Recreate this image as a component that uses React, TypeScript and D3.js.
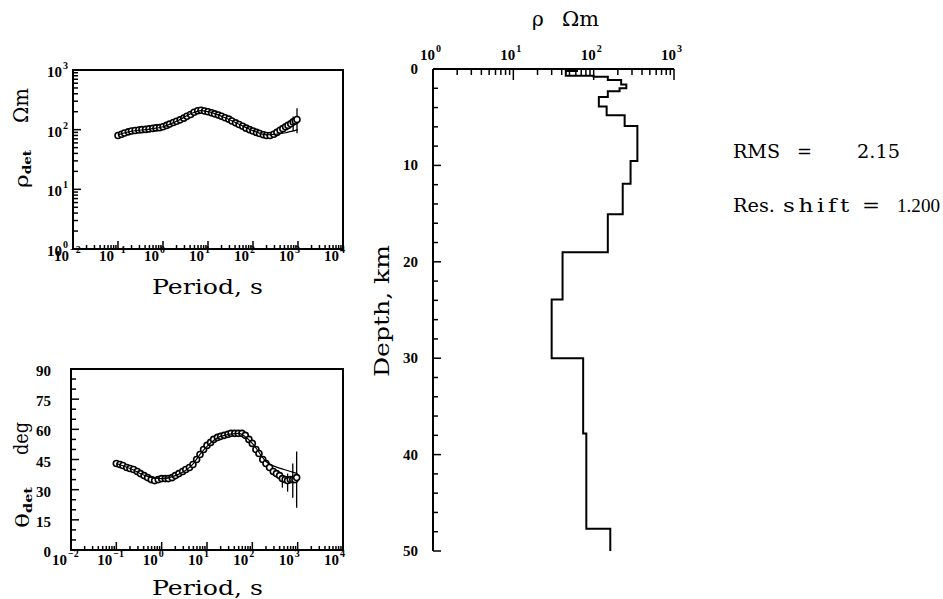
import React from 'react';
import * as d3 from 'd3';

// ---------- data ----------
const periods = [0.1, 0.12, 0.14, 0.17, 0.2, 0.24, 0.29, 0.34, 0.41, 0.49, 0.59, 0.7, 0.84, 1.0, 1.2, 1.4, 1.7, 2.0, 2.4, 2.9, 3.4, 4.1, 4.9, 5.9, 7.0, 8.4, 10, 12, 14, 17, 20, 24, 29, 34, 41, 49, 59, 70, 84, 100, 120, 140, 170, 200, 240, 290, 340, 400, 460, 530, 600, 690, 780, 870, 950];
const rhoObs = [80, 84, 88, 92, 95, 97, 99, 100, 101, 103, 105, 107, 108, 112, 118, 124, 132, 138, 146, 156, 168, 180, 196, 208, 212, 205, 200, 192, 184, 176, 168, 158, 150, 140, 130, 122, 114, 106, 100, 95, 90, 86, 82, 80, 80, 84, 90, 98, 104, 112, 118, 126, 135, 140, 148];
const phaseObs = [43, 42.5, 42, 41, 40.5, 40, 39, 38, 37, 36, 35, 34.5, 35, 35.5, 35.5, 35.5, 36, 37, 38, 39, 40, 41, 42.5, 45, 47.5, 50, 52, 53.5, 55, 56, 56.5, 57, 57.5, 58, 58, 58, 58, 57, 55, 53, 50, 48, 45, 43, 41, 39, 38, 37, 35.5, 35, 34.5, 35, 35, 35, 36];

const rhoBarPeriods = [780, 950];
const rhoBarLo = [95, 87];
const rhoBarHi = [166, 229];
const phaseBarPeriods = [460, 600, 780, 950];
const phaseBarLo = [31, 29, 26, 21];
const phaseBarHi = [36, 38, 43, 49];

const modelPeriods = [0.1, 0.2, 0.5, 1, 2, 5, 7, 10, 20, 50, 100, 200, 500, 1000];
const rhoModel = [82, 94, 102, 112, 138, 196, 208, 200, 168, 122, 96, 82, 88, 100];
const phaseModel = [43, 40.5, 36.5, 35.5, 37, 43, 47.5, 51.5, 56.5, 58, 53, 44, 40, 38];

const layerTop = [0, 0.2, 0.7, 0.8, 1.15, 1.6, 2.0, 2.3, 2.9, 3.9, 4.8, 5.9, 9.55, 11.9, 15.06, 19.0, 23.9, 30.0, 37.8, 47.7];
const layerRho = [62, 45, 100, 150, 220, 255, 210, 150, 116, 145, 243, 350, 288, 230, 150, 41, 30, 74, 81, 161];
const modelBottom = 50;

const phaseTicks = [0, 15, 30, 45, 60, 75, 90];
const depthTicks = [0, 10, 20, 30, 40, 50];

const rmsValue = '2.15';
const resShift = '1.200';

// ---------- helpers ----------
const isDecade = (v: number) => Math.abs(Math.log10(v) - Math.round(Math.log10(v))) < 1e-9;
const SERIF = 'DejaVu Serif';
const TICKF = 'Liberation Serif';

function Pow10({ y, e, anchorX }: { y: number; e: number; anchorX: number }) {
  return (
    <g>
      <text x={anchorX} y={y} textAnchor="end" fontFamily={TICKF} fontWeight="bold" fontSize={15}>10</text>
      <text x={anchorX + 1} y={y - 8} fontFamily={TICKF} fontWeight="bold" fontSize={10}>{e < 0 ? '\u2212' + Math.abs(e) : String(e)}</text>
    </g>
  );
}

export default function App() {
  const W = 943, H = 599;
  const xRho = d3.scaleLog().domain([1e-2, 1e4]).range([73, 343]);
  const yRho = d3.scaleLog().domain([1, 1e3]).range([249, 70]);
  const xPh = d3.scaleLog().domain([1e-2, 1e4]).range([71, 343]);
  const yPh = d3.scaleLinear().domain([0, 90]).range([550, 369]);
  const xMod = d3.scaleLog().domain([1, 1e3]).range([433, 674]);
  const yMod = d3.scaleLinear().domain([0, 50]).range([69, 551]);

  const rhoLine = d3.line<number>().x((_, i) => xRho(modelPeriods[i])).y((d) => yRho(d)).curve(d3.curveMonotoneX);
  const phLine = d3.line<number>().x((_, i) => xPh(modelPeriods[i])).y((d) => yPh(d)).curve(d3.curveMonotoneX);

  const stepPts: [number, number][] = [];
  layerRho.forEach((r, i) => {
    const top = layerTop[i];
    const bot = i + 1 < layerTop.length ? layerTop[i + 1] : modelBottom;
    stepPts.push([xMod(r), yMod(top)]);
    stepPts.push([xMod(r), yMod(bot)]);
  });
  const stepPath = d3.line()(stepPts) || '';

  const sw = 2;

  const xAxisTicks = (sc: d3.ScaleLogarithmic<number, number>, yBase: number, labelDy: number) =>
    sc.ticks().map((v, i) => {
      const major = isDecade(v);
      const x = sc(v);
      return (
        <g key={'xt' + i}>
          <line x1={x} x2={x} y1={yBase} y2={yBase - (major ? 8 : 4)} stroke="#000" strokeWidth={1.5} />
          {major && <Pow10 y={yBase + labelDy} e={Math.round(Math.log10(v))} anchorX={x - 4} />}
        </g>
      );
    });

  const fit = { lengthAdjust: 'spacingAndGlyphs' as const };

  return (
    <svg width={W} height={H} style={{ position: 'absolute', left: 0, top: 0, background: '#fff' }}>
      <rect x={0} y={0} width={W} height={H} fill="#fff" />

      {/* ---------- top-left: apparent resistivity ---------- */}
      <rect x={xRho.range()[0]} y={yRho.range()[1]} width={xRho.range()[1] - xRho.range()[0]} height={yRho.range()[0] - yRho.range()[1]} fill="none" stroke="#000" strokeWidth={sw} />
      {xAxisTicks(xRho, 249, 12)}
      {yRho.ticks().map((v, i) => {
        const major = isDecade(v);
        const y = yRho(v);
        return (
          <g key={'yr' + i}>
            <line x1={73} x2={73 + (major ? 8 : 5)} y1={y} y2={y} stroke="#000" strokeWidth={1.5} />
            {major && <Pow10 y={y + 7} e={Math.round(Math.log10(v))} anchorX={62} />}
          </g>
        );
      })}
      {rhoBarPeriods.map((p, i) => (
        <line key={'rb' + i} x1={xRho(p)} x2={xRho(p)} y1={yRho(rhoBarLo[i])} y2={yRho(rhoBarHi[i])} stroke="#000" strokeWidth={1.3} />
      ))}
      {periods.map((p, i) => (
        <circle key={'rc' + i} cx={xRho(p)} cy={yRho(rhoObs[i])} r={3} fill="#fff" stroke="#000" strokeWidth={1.6} />
      ))}
      <path d={rhoLine(rhoModel) || ''} fill="none" stroke="#000" strokeWidth={1.2} />
      <text x={152} y={294} fontFamily={SERIF} fontSize={20} textLength={111} {...fit}>Period, s</text>
      <g transform="translate(28,188) rotate(-90)">
        <text x={0} y={0} fontFamily={SERIF} fontSize={19} textLength={38} {...fit}>ρ<tspan fontSize={11} fontWeight="bold" dy={3}>det</tspan></text>
      </g>
      <g transform="translate(28,123) rotate(-90)">
        <text x={0} y={0} fontFamily={SERIF} fontSize={20} textLength={35} {...fit}>Ωm</text>
      </g>

      {/* ---------- bottom-left: phase ---------- */}
      <rect x={xPh.range()[0]} y={yPh.range()[1]} width={xPh.range()[1] - xPh.range()[0]} height={yPh.range()[0] - yPh.range()[1]} fill="none" stroke="#000" strokeWidth={sw} />
      {xAxisTicks(xPh, 550, 15)}
      {d3.range(0, 91, 5).map((v) => {
        const major = phaseTicks.includes(v);
        const y = yPh(v);
        return (
          <g key={'yp' + v}>
            <line x1={71} x2={71 + (major ? 8 : 5)} y1={y} y2={y} stroke="#000" strokeWidth={1.5} />
            {major && <text x={51} y={y + 7} textAnchor="end" fontFamily={TICKF} fontWeight="bold" fontSize={15}>{v}</text>}
          </g>
        );
      })}
      {phaseBarPeriods.map((p, i) => (
        <line key={'pb' + i} x1={xPh(p)} x2={xPh(p)} y1={yPh(phaseBarLo[i])} y2={yPh(phaseBarHi[i])} stroke="#000" strokeWidth={1.3} />
      ))}
      {periods.map((p, i) => (
        <circle key={'pc' + i} cx={xPh(p)} cy={yPh(phaseObs[i])} r={3} fill="#fff" stroke="#000" strokeWidth={1.6} />
      ))}
      <path d={phLine(phaseModel) || ''} fill="none" stroke="#000" strokeWidth={1.2} />
      <text x={152} y={595} fontFamily={SERIF} fontSize={20} textLength={111} {...fit}>Period, s</text>
      <g transform="translate(29,528) rotate(-90)">
        <text x={0} y={0} fontFamily={SERIF} fontSize={19} textLength={41} {...fit}>θ<tspan fontSize={11} fontWeight="bold" dy={3}>det</tspan></text>
      </g>
      <g transform="translate(28,455) rotate(-90)">
        <text x={0} y={0} fontFamily={SERIF} fontSize={20} textLength={33} {...fit}>deg</text>
      </g>

      {/* ---------- right: 1D model ---------- */}
      <line x1={433} x2={674} y1={69} y2={69} stroke="#000" strokeWidth={sw} />
      <line x1={433} x2={433} y1={69} y2={551} stroke="#000" strokeWidth={sw} />
      {xMod.ticks().map((v, i) => {
        const major = isDecade(v);
        const x = xMod(v);
        return (
          <g key={'xm' + i}>
            <line x1={x} x2={x} y1={69} y2={69 + (major ? 11 : 6)} stroke="#000" strokeWidth={1.5} />
            {major && <Pow10 y={60} e={Math.round(Math.log10(v))} anchorX={x + 2} />}
          </g>
        );
      })}
      {d3.range(0, 51, 2).map((v) => {
        const major = depthTicks.includes(v);
        const y = yMod(v);
        return (
          <g key={'ym' + v}>
            <line x1={433} x2={433 + (major ? 8 : 5)} y1={y} y2={y} stroke="#000" strokeWidth={1.5} />
            {major && <text x={418} y={y + 5} textAnchor="end" fontFamily={TICKF} fontWeight="bold" fontSize={15}>{v}</text>}
          </g>
        );
      })}
      <path d={stepPath} fill="none" stroke="#000" strokeWidth={2} />
      <text x={532} y={26} fontFamily={SERIF} fontSize={20}>ρ</text>
      <text x={562} y={26} fontFamily={SERIF} fontSize={20} textLength={37} {...fit}>Ωm</text>
      <g transform="translate(389,377) rotate(-90)">
        <text x={0} y={0} fontFamily={SERIF} fontSize={20} textLength={132} {...fit}>Depth, km</text>
      </g>

      {/* ---------- statistics ---------- */}
      <text x={733} y={158} fontFamily={SERIF} fontSize={18} textLength={47} {...fit}>RMS</text>
      <text x={797} y={158} fontFamily={SERIF} fontSize={18} textLength={15} {...fit}>=</text>
      <text x={857} y={158} fontFamily={SERIF} fontSize={18} textLength={43} {...fit}>{rmsValue}</text>
      <text x={733} y={212} fontFamily={SERIF} fontSize={18} textLength={42} {...fit}>Res.</text>
      <text x={783} y={212} fontFamily={SERIF} fontSize={19} letterSpacing={3} textLength={70} {...fit}>shift</text>
      <text x={862} y={212} fontFamily={SERIF} fontSize={18} textLength={18} {...fit}>=</text>
      <text x={897} y={212} fontFamily={TICKF} fontSize={19} textLength={43} {...fit}>{resShift}</text>
    </svg>
  );
}
